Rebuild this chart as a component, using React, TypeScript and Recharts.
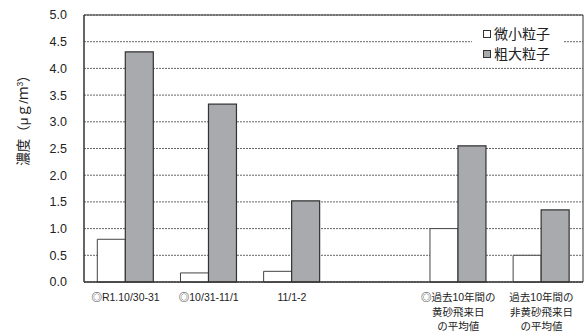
import React from 'react';
import { BarChart, Bar, XAxis, YAxis, CartesianGrid, Legend, ReferenceLine } from 'recharts';

const categories = [
  '◎R1.10/30-31',
  '◎10/31-11/1',
  '11/1-2',
  '',
  '◎過去10年間の\n黄砂飛来日\nの平均値',
  '過去10年間の\n非黄砂飛来日\nの平均値',
];
const fineValues: (number | null)[] = [0.8, 0.17, 0.2, null, 1.0, 0.5];
const coarseValues: (number | null)[] = [4.31, 3.33, 1.52, null, 2.55, 1.35];
const yTicks = [0, 0.5, 1, 1.5, 2, 2.5, 3, 3.5, 4, 4.5, 5];
const seriesNames = ['微小粒子', '粗大粒子'];

const data = categories.map((c, i) => ({ name: c, fine: fineValues[i], coarse: coarseValues[i] }));

const FONT = '"Liberation Sans", "Noto Sans CJK JP", sans-serif';
const GRAY = '#a9aaae';

const XTick = (props: any) => {
  const { x, y, payload } = props;
  const lines = String(payload.value).split('\n');
  return (
    <g>
      {lines.map((l: string, i: number) => (
        <text key={i} x={x} y={y + 19 + i * 14.5} textAnchor="middle" fontSize={10.5} fill="#222" fontFamily={FONT}>
          {l}
        </text>
      ))}
    </g>
  );
};

const LegendContent = () => (
  <div style={{ background: '#fff', padding: '2px 0 2px 11px', fontFamily: FONT, fontSize: 14, color: '#222', lineHeight: '20px', textAlign: 'left' }}>
    {seriesNames.map((n, i) => (
      <div key={n} style={{ display: 'flex', alignItems: 'center' }}>
        <span style={{ display: 'inline-block', width: 6, height: 6, border: '1px solid #333', background: i === 0 ? '#fff' : GRAY, marginRight: 3 }} />
        <span>{n}</span>
      </div>
    ))}
  </div>
);

export default function App() {
  return (
    <div style={{ position: 'absolute', left: 0, top: 0, width: 587, height: 333, background: '#fff' }}>
      <BarChart width={587} height={333} data={data} margin={{ top: 15, right: 3, left: 0, bottom: 0 }} barCategoryGap="16%" barGap={0}>
        <CartesianGrid yAxisId="l" vertical={false} stroke="#666" strokeDasharray="2 1" />
        <XAxis dataKey="name" height={51} tickLine={false} tickSize={0} tickMargin={0} interval={0} tick={<XTick />} axisLine={{ stroke: '#333', strokeWidth: 1.5 }} />
        <YAxis
          yAxisId="l"
          width={84}
          domain={[0, 5]}
          ticks={yTicks}
          tickFormatter={(v: number) => v.toFixed(1)}
          tickLine={false}
          tickSize={0}
          tickMargin={17}
          axisLine={{ stroke: '#333', strokeWidth: 1.5 }}
          tick={{ fontSize: 12.5, fill: '#222', fontFamily: FONT }}
        />
        <YAxis yAxisId="r" orientation="right" width={1} domain={[0, 5]} tick={false} tickLine={false} axisLine={{ stroke: '#333', strokeWidth: 1 }} />
        <ReferenceLine yAxisId="l" y={5} stroke="#333" strokeWidth={1} strokeDasharray="0" />
        <Legend layout="horizontal" verticalAlign="middle" align="center" content={<LegendContent />} wrapperStyle={{ top: 22, left: 472, width: 91 }} />
        <Bar yAxisId="l" dataKey="fine" name={seriesNames[0]} fill="#fff" stroke="#444" strokeWidth={1} isAnimationActive={false} />
        <Bar yAxisId="l" dataKey="coarse" name={seriesNames[1]} fill={GRAY} stroke="#333" strokeWidth={1.2} isAnimationActive={false} />
      </BarChart>
      <svg style={{ position: 'absolute', left: 0, top: 0, pointerEvents: 'none' }} width={40} height={333}>
        <text transform="translate(28,117) rotate(-90)" textAnchor="middle" fontSize={13.5} fill="#222" fontFamily={FONT}>
          濃度（μｇ/ｍ<tspan fontSize={8.5} dy={-5}>3</tspan><tspan dy={5}>）</tspan>
        </text>
      </svg>
    </div>
  );
}
